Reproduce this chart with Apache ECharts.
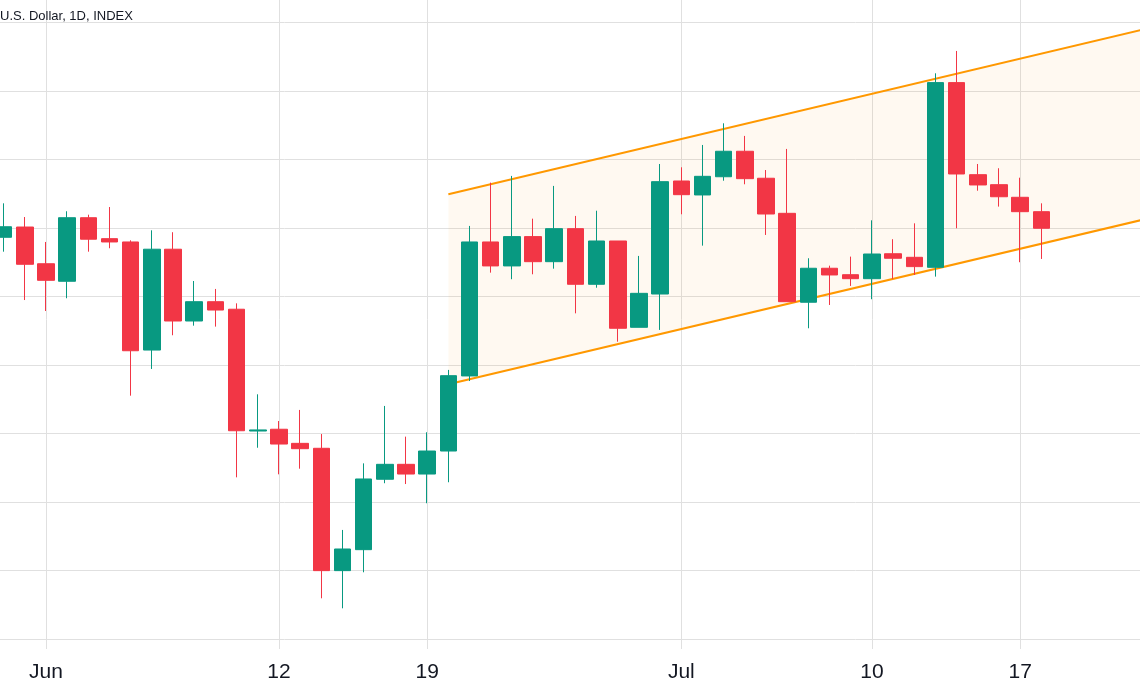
<!DOCTYPE html>
<html>
<head>
<meta charset="utf-8">
<title>U.S. Dollar, 1D, INDEX</title>
<script src="https://cdn.jsdelivr.net/npm/echarts@6/dist/echarts.min.js"></script>
<style>
  html, body { margin: 0; padding: 0; background: #ffffff; }
  #main { width: 1140px; height: 694px; }
</style>
</head>
<body>
<div id="main"></div>
<script>
// daily candles, May 30 .. Jul 18 (axis runs from May 29 to Jul 23)
var days = [
  '2023-05-29', '2023-05-30', '2023-05-31',
  '2023-06-01', '2023-06-02', '2023-06-03', '2023-06-04', '2023-06-05', '2023-06-06', '2023-06-07',
  '2023-06-08', '2023-06-09', '2023-06-10', '2023-06-11', '2023-06-12', '2023-06-13', '2023-06-14',
  '2023-06-15', '2023-06-16', '2023-06-17', '2023-06-18', '2023-06-19', '2023-06-20', '2023-06-21',
  '2023-06-22', '2023-06-23', '2023-06-24', '2023-06-25', '2023-06-26', '2023-06-27', '2023-06-28',
  '2023-06-29', '2023-06-30',
  '2023-07-01', '2023-07-02', '2023-07-03', '2023-07-04', '2023-07-05', '2023-07-06', '2023-07-07',
  '2023-07-08', '2023-07-09', '2023-07-10', '2023-07-11', '2023-07-12', '2023-07-13', '2023-07-14',
  '2023-07-15', '2023-07-16', '2023-07-17', '2023-07-18', '2023-07-19', '2023-07-20', '2023-07-21',
  '2023-07-22', '2023-07-23'
]

// first candle on screen is May 30
var opens = [
  1893.2, 1900.7,
  1873.9, 1861.1, 1907.5, 1892.2, 1889.8, 1810.9, 1884.5, 1832.1, 1846.2, 1840.7,
  1751.8, 1753.1, 1742.8, 1739.2, 1649.9, 1665.2, 1716.6, 1727.5, 1720.4, 1737.2,
  1792.0, 1889.8, 1872.3, 1893.7, 1875.4, 1899.5, 1858.9, 1890.5, 1827.5, 1851.8,
  1934.3, 1924.1, 1937.4, 1956.0, 1936.3, 1910.7, 1845.8, 1870.6, 1865.9, 1863.0,
  1881.2, 1878.6, 1871.3, 2006.1, 1938.9, 1931.6, 1922.4, 1911.9
]
var closes = [
  1900.9, 1873.5,
  1861.8, 1907.5, 1891.8, 1889.8, 1810.4, 1884.5, 1832.1, 1846.2, 1840.1, 1752.0,
  1752.6, 1742.3, 1738.9, 1649.9, 1665.7, 1716.8, 1727.5, 1720.4, 1737.2, 1792.2,
  1889.8, 1872.3, 1893.7, 1875.4, 1899.5, 1858.9, 1890.5, 1826.8, 1852.3, 1933.8,
  1924.3, 1937.7, 1956.0, 1936.0, 1910.2, 1846.2, 1870.6, 1865.7, 1863.0, 1881.0,
  1877.9, 1871.8, 2006.1, 1939.4, 1931.4, 1922.8, 1911.9, 1899.8
]
var lows = [
  1882.7, 1847.4,
  1839.4, 1848.7, 1882.7, 1885.2, 1777.6, 1797.1, 1821.7, 1828.7, 1828.0, 1718.0,
  1739.6, 1720.2, 1724.3, 1629.7, 1622.4, 1648.7, 1713.7, 1713.1, 1699.1, 1714.4,
  1788.3, 1867.4, 1862.6, 1866.2, 1870.3, 1837.7, 1856.4, 1817.0, 1827.5, 1825.6,
  1910.0, 1887.1, 1934.5, 1931.9, 1894.9, 1846.2, 1826.8, 1843.8, 1857.7, 1848.0,
  1862.8, 1865.7, 1864.5, 1899.8, 1927.2, 1915.6, 1875.0, 1877.4
]
var highs = [
  1918.0, 1908.0,
  1889.8, 1912.2, 1909.7, 1915.3, 1891.0, 1898.3, 1896.9, 1861.3, 1855.5, 1845.0,
  1778.6, 1759.1, 1767.2, 1749.6, 1679.6, 1728.2, 1770.1, 1747.7, 1750.9, 1796.4,
  1901.5, 1933.1, 1938.0, 1906.8, 1930.7, 1908.8, 1912.6, 1890.5, 1879.6, 1946.7,
  1944.3, 1960.6, 1976.4, 1967.2, 1942.3, 1957.7, 1877.9, 1872.5, 1879.1, 1905.6,
  1891.8, 1903.4, 2012.9, 2029.2, 1946.7, 1943.6, 1936.7, 1918.0
]

// x axis ticks
var tickDates = ['2023-06-01', '2023-06-12', '2023-06-19', '2023-07-01', '2023-07-10', '2023-07-17']
var tickLabels = ['Jun', '12', '19', 'Jul', '10', '17']

// parallel channel, two anchor points each
var channelDates = ['2023-06-20', '2023-07-23']
var channelLower = [1785.9, 1906.8]
var channelUpper = [1924.6, 2045.5]

var gridColor = '#e0e0e0'
var upColor = '#089981'
var downColor = '#f23645'

// May 29 has no candle on screen
var candles = [['-', '-', '-', '-']].concat(opens.map(function (o, i) {
  return [o, closes[i], lows[i], highs[i]]
}))
var lowerLine = channelDates.map(function (d, i) { return [d, channelLower[i]] })
// band is stacked on top of the lower line
var bandLine = channelDates.map(function (d, i) { return [d, channelUpper[i] - channelLower[i]] })

function isTick (idx, value) {
  return tickDates.indexOf(value) >= 0
}

var chart = echarts.init(document.getElementById('main'))
chart.setOption({
  animation: false,
  backgroundColor: '#ffffff',
  title: {
    text: 'U.S. Dollar, 1D, INDEX',
    left: 0,
    top: 10,
    padding: 0,
    textStyle: { fontSize: 13, fontWeight: 'normal', color: '#131722', fontFamily: 'Liberation Sans' }
  },
  // the plot runs past both edges, like the cropped screenshot
  grid: { left: -17.53, right: -7.2, top: 0, bottom: 55, outerBoundsMode: 'none' },
  xAxis: {
    type: 'category',
    data: days,
    boundaryGap: false,
    axisLine: { show: false },
    axisTick: { show: true, interval: isTick, length: 10, lineStyle: { color: gridColor } },
    axisLabel: {
      interval: isTick,
      margin: 23,
      fontSize: 21,
      color: '#131722',
      fontFamily: 'Liberation Sans',
      formatter: function (v) {
        var k = tickDates.indexOf(v)
        return k >= 0 ? tickLabels[k] : ''
      }
    },
    splitLine: { show: true, interval: isTick, lineStyle: { color: gridColor } }
  },
  yAxis: {
    type: 'value',
    min: 1600,
    max: 2066.4,
    interval: 50,
    axisLine: { show: false },
    axisTick: { show: false },
    axisLabel: { show: false },
    splitLine: { show: true, showMaxLine: false, lineStyle: { color: gridColor } }
  },
  series: [
    {
      type: 'line',
      data: lowerLine,
      stack: 'channel',
      symbol: 'none',
      silent: true,
      z: 1,
      lineStyle: { color: '#ff9800', width: 2 }
    },
    {
      type: 'line',
      data: bandLine,
      stack: 'channel',
      symbol: 'none',
      silent: true,
      z: 1,
      lineStyle: { color: '#ff9800', width: 2 },
      areaStyle: { color: 'rgba(255, 152, 0, 0.08)' }
    },
    {
      type: 'candlestick',
      data: candles,
      barWidth: 17,
      clip: false,
      z: 3,
      itemStyle: {
        color: upColor,
        color0: downColor,
        borderColor: upColor,
        borderColor0: downColor,
        borderWidth: 1
      }
    }
  ]
})
</script>
</body>
</html>
